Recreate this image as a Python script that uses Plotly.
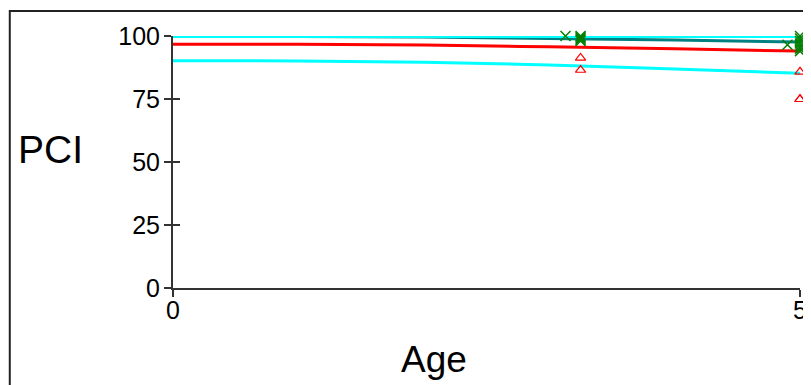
import plotly.graph_objects as go

# Fitted curves
line_age = [0, 1, 2, 3, 4, 5]
cyan_top = [99.8, 99.8, 99.8, 99.8, 99.8, 99.8]
teal_line = [99.8, 99.8, 99.6, 99.0, 98.4, 97.6]
red_line = [96.7, 96.7, 96.4, 95.7, 94.9, 94.0]
cyan_bottom = [90.2, 90.1, 89.6, 88.5, 86.9, 85.2]

# Observations
green_age = [3.13, 3.25, 3.25, 3.25, 3.25, 3.25, 4.9, 5, 5, 5, 5, 5, 5, 5]
green_pci = [100, 100, 99.5, 99, 98.5, 98, 96.5, 100, 99, 98, 97, 96, 95, 94]
red_age = [3.25, 3.25, 5, 5, 5]
red_pci = [91.3, 86.5, 85.8, 74.9, 74.9]

x_ticks = [0, 5]
y_ticks = [0, 25, 50, 75, 100]

FONT = "Liberation Sans, Arial, sans-serif"

# page body has an 8px offset; plot area in figure coords
L, T, PW, PH = 165, 28, 630, 252

fig = go.Figure()
fig.add_trace(go.Scatter(x=line_age, y=cyan_bottom, mode="lines",
                         line=dict(color="#00FFFF", width=3, shape="spline"), cliponaxis=False))
fig.add_trace(go.Scatter(x=line_age, y=red_line, mode="lines",
                         line=dict(color="#FF0000", width=3, shape="spline"), cliponaxis=False))
fig.add_trace(go.Scatter(x=line_age, y=teal_line, mode="lines",
                         line=dict(color="#008080", width=3, shape="spline"), cliponaxis=False))
fig.add_trace(go.Scatter(x=line_age, y=cyan_top, mode="lines",
                         line=dict(color="#00FFFF", width=3, shape="spline"), cliponaxis=False))
fig.add_trace(go.Scatter(x=green_age, y=green_pci, mode="markers", cliponaxis=False,
                         marker=dict(symbol="x-thin-open", size=10, color="#008000",
                                     line=dict(color="#008000", width=1.5))))
fig.add_trace(go.Scatter(x=red_age, y=red_pci, mode="markers", cliponaxis=False,
                         marker=dict(symbol="triangle-up-open", size=9, color="#FF0000",
                                     line=dict(color="#FF0000", width=1.2))))

axis_common = dict(showgrid=False, zeroline=False, showline=True, linecolor="#333333",
                   linewidth=2, tickcolor="#333333", tickwidth=1.5, ticklen=7)

def px(fx):
    return (fx - L) / PW

def py(fy):
    return (T + PH - fy) / PH

fig.update_layout(
    width=811, height=385,
    margin=dict(l=L, r=811 - L - PW, t=T, b=385 - T - PH),
    paper_bgcolor="white", plot_bgcolor="white",
    showlegend=False,
    font=dict(family=FONT, color="black"),
    xaxis=dict(range=[0, 5], tickvals=x_ticks, ticks="outside", ticklabelstandoff=-8,
               tickfont=dict(size=25, family=FONT), **axis_common),
    yaxis=dict(range=[0, 100], tickvals=y_ticks, ticks="outside", ticklabelstandoff=-1,
               tickfont=dict(size=25, family=FONT), **axis_common),
    xaxis2=dict(range=[0, 5], tickvals=x_ticks, ticks="inside", showticklabels=False,
                overlaying="x", side="bottom", **axis_common),
    yaxis2=dict(range=[0, 100], tickvals=y_ticks, ticks="inside", showticklabels=False,
                overlaying="y", side="left", **axis_common),
    shapes=[dict(type="rect", xref="paper", yref="paper",
                 x0=px(1), x1=1.3, y0=-0.6, y1=py(3),
                 line=dict(color="#222222", width=2), fillcolor="rgba(0,0,0,0)", layer="below")],
    annotations=[
        dict(text="PCI", xref="paper", yref="paper", x=px(42), y=py(141),
             showarrow=False, font=dict(size=39, family=FONT), xanchor="center", yanchor="middle"),
        dict(text="Age", xref="paper", yref="paper", x=px(427), y=py(352),
             showarrow=False, font=dict(size=37, family=FONT), xanchor="center", yanchor="middle"),
    ],
)
fig.add_trace(go.Scatter(x=[None], y=[None], xaxis="x2", yaxis="y2", showlegend=False))

fig.write_html("out.html")
